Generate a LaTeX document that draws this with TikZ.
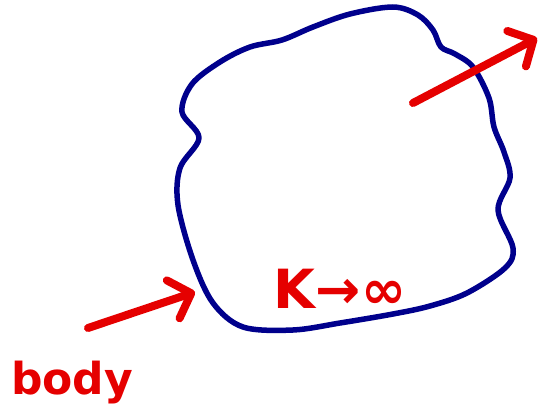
\documentclass[tikz,border=0pt]{standalone}
\usepackage{fontspec}
\setmainfont{DejaVu Sans}
\usetikzlibrary{arrows.meta,positioning}

\begin{document}
\begin{tikzpicture}[
    x=1pt, y=-1pt,
    blob/.style={draw=blue!55!black, line width=5.5pt, line join=round},
    flux/.style={draw=red!90!black, line width=8pt, line cap=round,
        -{Straight Barb[length=19pt, width=40pt, line cap=round, line join=round]}},
    handtext/.style={text=red!90!black, font=\bfseries\fontsize{44}{48}\selectfont, inner sep=0pt}
]

    % Rand van het gebied
    \useasboundingbox (0,0) rectangle (542,417);
    \draw [blob] plot [smooth cycle, tension=0.55] coordinates {
        (182,112) (192,84) (220,62) (250,47) (282,40) (313,27) (350,14)
        (393,7) (418,15) (433,30) (441,47) (455,54) (473,67) (489,98)
        (494,127) (504,152) (510,178) (498,210) (513,248) (505,268)
        (467,293) (430,306) (393,314) (340,323) (293,330) (243,327)
        (213,303) (193,260) (178,205) (180,168) (199,138)};

    % Teksten
    \node [handtext, font=\bfseries\fontsize{54}{58}\selectfont] (kinf) at (340,289) {K→∞};
    \node [handtext] (body) at (72,383) {body};

    % Pijlen in en uit het gebied
    \coordinate (instart) at (88,328);
    \coordinate (inend) at (195,292);
    \coordinate (outstart) at (413,103);
    \coordinate (outend) at (537,38);
    \draw [flux] (instart) -- (inend);
    \draw [flux] (outstart) -- (outend);

\end{tikzpicture}
\end{document}
